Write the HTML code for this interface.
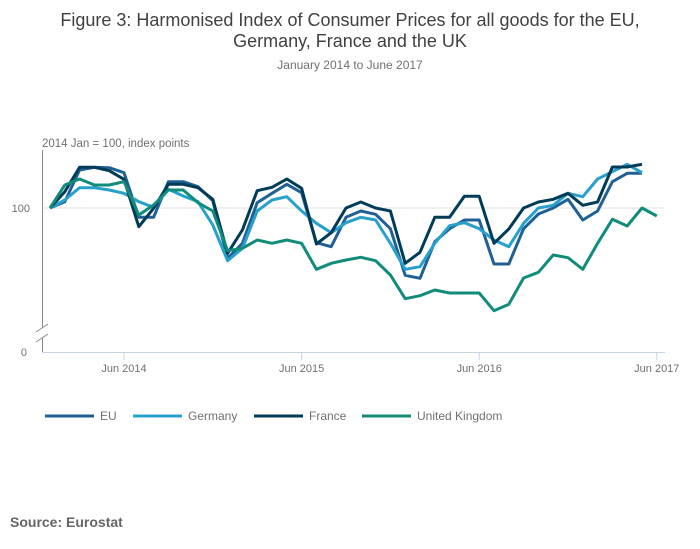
<!DOCTYPE html>
<html><head><meta charset="utf-8"><style>
body{margin:0;background:#fff;width:700px;height:549px;overflow:hidden;font-family:"Liberation Sans",sans-serif}
svg{display:block}
</style></head><body>
<svg id="chart" width="700" height="549">
<text x="350" y="26" text-anchor="middle" font-size="18" fill="#414042">Figure 3: Harmonised Index of Consumer Prices for all goods for the EU,</text>
<text x="350" y="47" text-anchor="middle" font-size="18" fill="#414042">Germany, France and the UK</text>
<text x="350" y="69" text-anchor="middle" font-size="12" fill="#707070">January 2014 to June 2017</text>
<text x="42" y="147" font-size="11.5" fill="#707070">2014 Jan = 100, index points</text>
<g id="grid"></g>
<g id="axes"></g>
<g id="series"></g>
<g id="legend"></g>
<text x="10" y="527" font-size="14" font-weight="bold" fill="#666">Source: Eurostat</text>
</svg>
<script>
const months = 42; // Jan 2014 .. Jun 2017
const tickLabels = ["Jun 2014","Jun 2015","Jun 2016","Jun 2017"];
const tickIndex = [5,17,29,41];
const yTicks = [100];
const seriesNames = ["EU","Germany","France","United Kingdom"];
const seriesColors = ["#206095","#27a0cc","#003c57","#118c7b"];
const euValues = [100,100.63,103.8,104.07,104.03,103.53,99.07,99.07,102.63,102.63,102.13,100.73,94.97,96.47,100.53,101.47,102.37,101.53,96.53,96.13,99.07,99.7,99.37,97.93,93.27,92.97,96.63,97.93,98.8,98.8,94.4,94.4,97.93,99.4,100,100.87,98.8,99.7,102.63,103.47,103.47];
const germanyValues = [100,100.8,102.03,102.03,101.8,101.47,100.63,100.07,101.87,101.2,100.63,98.3,94.73,95.97,99.7,100.8,101.13,99.7,98.47,97.53,98.53,99.07,98.8,96.47,93.87,94.13,96.47,98.23,98.53,97.93,96.8,96.13,98.47,100,100.27,101.47,101.13,102.9,103.63,104.37,103.53];
const franceValues = [100,101.63,104.07,104.07,103.73,102.87,98.13,99.97,102.37,102.37,102.03,100.87,95.47,97.8,101.73,102.07,102.9,101.97,96.4,97.53,100,100.6,100,99.7,94.47,95.57,99.07,99.07,101.17,101.17,96.47,97.9,100,100.6,100.87,101.47,100.27,100.6,104.1,104.1,104.37];
const ukValues = [100,102.3,102.9,102.3,102.3,102.63,99.3,100.3,101.8,101.8,100.53,99.7,95.73,95.97,96.8,96.47,96.8,96.47,93.87,94.47,94.8,95.07,94.73,93.3,90.93,91.23,91.8,91.5,91.5,91.5,89.73,90.37,93,93.57,95.3,95.03,93.87,96.47,98.87,98.2,100,99.2];
const allSeries = [euValues,germanyValues,franceValues,ukValues];

const NS="http://www.w3.org/2000/svg";
function xScale(i){return 50+i*14.8;}
function yScale(v){return 208-(v-100)*10;}
function mk(tag,attrs,parent){const e=document.createElementNS(NS,tag);for(const k in attrs)e.setAttribute(k,attrs[k]);parent.appendChild(e);return e;}
const grid=document.getElementById('grid'),axes=document.getElementById('axes'),ser=document.getElementById('series'),leg=document.getElementById('legend');
yTicks.forEach(t=>{
  const l=mk('line',{x1:42,x2:665,y1:yScale(t),y2:yScale(t),stroke:'#e0e0e0','stroke-width':1},grid);
  
  
  const tx=mk('text',{x:30,y:yScale(t)+4,'text-anchor':'end','font-size':11,fill:'#707070'},axes);
  tx.textContent=t;
  
  
});
const z=mk('text',{x:27,y:356,'text-anchor':'end','font-size':11,fill:'#707070'},axes);z.textContent='0';


const ya=mk('path',{d:'M42.5 150 V328 M42.5 338 V352',stroke:'#888',fill:'none','stroke-width':1},axes);


const br=mk('path',{d:'M36 332 L48 324 M36 342 L48 334',stroke:'#888',fill:'none','stroke-width':1},axes);


const xa=mk('line',{x1:42,x2:665,y1:352.5,y2:352.5,stroke:'#c8d4e8','stroke-width':1},axes);


tickIndex.forEach((ti,k)=>{
  const x=xScale(ti);
  const tk=mk('line',{x1:x,x2:x,y1:352,y2:360,stroke:'#c8d4e8'},axes);
  
  
  const tx=mk('text',{x:x,y:372,'text-anchor':'middle','font-size':11,fill:'#707070'},axes);
  tx.textContent=tickLabels[k];
  
  
});
allSeries.forEach((vals,s)=>{
  const d=vals.map((v,i)=>(i?'L':'M')+xScale(i).toFixed(1)+' '+yScale(v).toFixed(1)).join(' ');
  const p=mk('path',{d:d,fill:'none',stroke:seriesColors[s],'stroke-width':3,'stroke-linejoin':'round'},ser);
  
  
});
const legX=[45,133,254,362];
seriesNames.forEach((n,s)=>{
  const l=mk('line',{x1:legX[s],x2:legX[s]+49,y1:416,y2:416,stroke:seriesColors[s],'stroke-width':3},leg);
  
  
  const t=mk('text',{x:legX[s]+55,y:420,'font-size':12,fill:'#707070'},leg);
  t.textContent=n;
  
  
});
</script>
</body></html>
